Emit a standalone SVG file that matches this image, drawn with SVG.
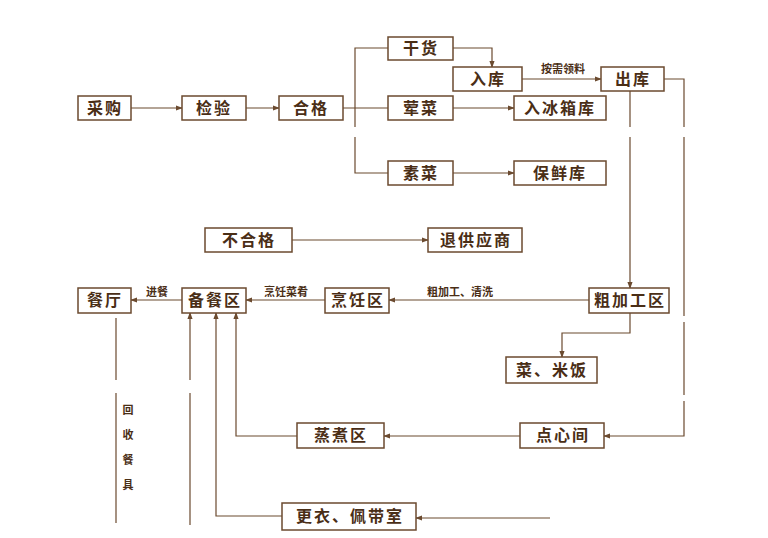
<svg xmlns="http://www.w3.org/2000/svg" width="768" height="538" viewBox="0 0 768 538">
<defs><marker id="a" viewBox="0 0 8 8" refX="7" refY="4" markerWidth="6" markerHeight="6" orient="auto"><path d="M0,1L8,4L0,7z" fill="#6b4a2f"/></marker></defs>
<style>
.b{fill:#fff;stroke:#6b4a2f;stroke-width:1.5}
.t{font-family:"Noto Sans CJK SC",sans-serif;font-size:16px;font-weight:bold;fill:#4a2e16;text-anchor:middle;letter-spacing:2px}
.s{font-family:"Noto Sans CJK SC",sans-serif;font-size:11px;font-weight:bold;fill:#4a2e16;text-anchor:middle}
.l{fill:none;stroke:#6b4a2f;stroke-width:1.2}
</style>
<rect width="768" height="538" fill="#fff"/>
<g id="connectors" class="l">
<path d="M131,108H182" marker-end="url(#a)"/><path d="M246,108H279" marker-end="url(#a)"/>
<path d="M343,108H388"/><path d="M388,48H355V127M355,137V173H388"/>
<path d="M453,48H492V67" marker-end="url(#a)"/>
<path d="M522,79H601" marker-end="url(#a)"/>
<path d="M453,108H514" marker-end="url(#a)"/><path d="M453,173H514" marker-end="url(#a)"/>
<path d="M292,240H428" marker-end="url(#a)"/>
<path d="M630,91V127M630,137V288" marker-end="url(#a)"/>
<path d="M664,79H684V127M684,137V316M684,322V395M684,401V436H604" marker-end="url(#a)"/>
<path d="M589,300H389" marker-end="url(#a)"/><path d="M325,300H246" marker-end="url(#a)"/><path d="M182,300H131" marker-end="url(#a)"/>
<path d="M630,313V333H562V357" marker-end="url(#a)"/>
<path d="M520,436H384" marker-end="url(#a)"/>
<path d="M297,436H236V313" marker-end="url(#a)"/>
<path d="M282,516H216V313" marker-end="url(#a)"/>
<path d="M190,525V393M190,380V313" marker-end="url(#a)"/>
<path d="M550,518H416" marker-end="url(#a)"/>
<path d="M116,318V380M116,393V523"/>
</g>
<g class="s"><text x="563" y="73">按需领料</text><text x="460" y="296">粗加工、清洗</text><text x="286" y="296">烹饪菜肴</text><text x="157" y="296">进餐</text>
<text x="128" y="414">回</text><text x="128" y="439">收</text><text x="128" y="464">餐</text><text x="128" y="489">具</text></g>
<g id="n1"><rect class="b" x="78" y="96" width="53" height="24"/><text class="t" x="105" y="114">采购</text></g>
<g id="n2"><rect class="b" x="182" y="96" width="64" height="24"/><text class="t" x="214" y="114">检验</text></g>
<g id="n3"><rect class="b" x="279" y="96" width="64" height="24"/><text class="t" x="311" y="114">合格</text></g>
<g id="n4"><rect class="b" x="388" y="37" width="65" height="23"/><text class="t" x="421" y="54">干货</text></g>
<g id="n5"><rect class="b" x="453" y="67" width="69" height="24"/><text class="t" x="488" y="85">入库</text></g>
<g id="n6"><rect class="b" x="388" y="96" width="65" height="24"/><text class="t" x="421" y="114">荤菜</text></g>
<g id="n7"><rect class="b" x="514" y="96" width="92" height="24"/><text class="t" x="560" y="114">入冰箱库</text></g>
<g id="n8"><rect class="b" x="601" y="67" width="63" height="24"/><text class="t" x="633" y="85">出库</text></g>
<g id="n9"><rect class="b" x="388" y="161" width="65" height="24"/><text class="t" x="421" y="179">素菜</text></g>
<g id="n10"><rect class="b" x="514" y="161" width="92" height="24"/><text class="t" x="560" y="179">保鲜库</text></g>
<g id="n11"><rect class="b" x="205" y="228" width="87" height="24"/><text class="t" x="249" y="246">不合格</text></g>
<g id="n12"><rect class="b" x="428" y="228" width="94" height="24"/><text class="t" x="476" y="246">退供应商</text></g>
<g id="n13"><rect class="b" x="78" y="288" width="53" height="25"/><text class="t" x="105" y="306">餐厅</text></g>
<g id="n14"><rect class="b" x="182" y="288" width="64" height="25"/><text class="t" x="215" y="306">备餐区</text></g>
<g id="n15"><rect class="b" x="325" y="288" width="64" height="25"/><text class="t" x="358" y="306">烹饪区</text></g>
<g id="n16"><rect class="b" x="589" y="288" width="80" height="25"/><text class="t" x="630" y="306">粗加工区</text></g>
<g id="n17"><rect class="b" x="506" y="357" width="91" height="26"/><text class="t" x="552" y="376">菜、米饭</text></g>
<g id="n18"><rect class="b" x="297" y="423" width="87" height="25"/><text class="t" x="341" y="441">蒸煮区</text></g>
<g id="n19"><rect class="b" x="520" y="423" width="84" height="25"/><text class="t" x="563" y="441">点心间</text></g>
<g id="n20"><rect class="b" x="282" y="503" width="134" height="27"/><text class="t" x="350" y="522">更衣、佩带室</text></g>
</svg>
